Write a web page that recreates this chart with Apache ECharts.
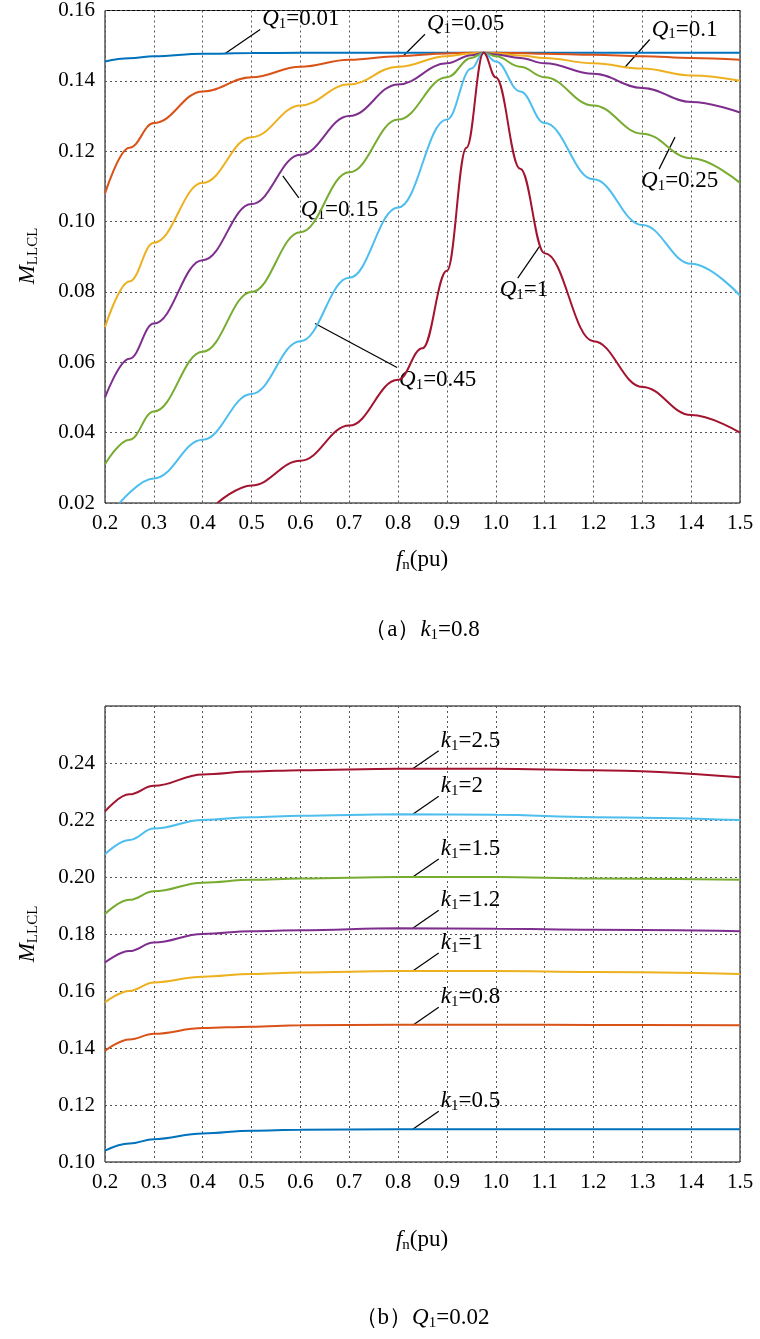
<!DOCTYPE html>
<html>
<head>
<meta charset="utf-8">
<script src="https://cdn.jsdelivr.net/npm/echarts@6/dist/echarts.min.js"></script>
<style>html,body{margin:0;background:#fff}#c{width:760px;height:1339px}</style>
</head>
<body>
<div id="c"></div>
<script>
// (a) k1 = 0.8, curves for several Q1
const colors = ['#0072BD', '#D95319', '#EDB120', '#7E2F8E', '#77AC30', '#4DBEEE', '#A2142F'];
const qX = [0.2, 0.25, 0.3, 0.4, 0.5, 0.6, 0.7, 0.8, 0.9, 0.95, 0.975, 1.0, 1.05, 1.1, 1.2, 1.3, 1.4, 1.5];
const q001 = [0.1455, 0.1464, 0.147, 0.1477, 0.1479, 0.148, 0.148, 0.148, 0.148, 0.148, 0.148, 0.148, 0.148, 0.148, 0.148, 0.148, 0.148, 0.148];
const q005 = [0.108, 0.121, 0.128, 0.137, 0.141, 0.144, 0.146, 0.147, 0.1478, 0.148, 0.148, 0.148, 0.1479, 0.1477, 0.1474, 0.147, 0.1465, 0.146];
const q01 = [0.070, 0.083, 0.094, 0.111, 0.124, 0.133, 0.139, 0.144, 0.147, 0.1478, 0.148, 0.1478, 0.1472, 0.1465, 0.145, 0.1435, 0.1415, 0.140];
const q015 = [0.050, 0.061, 0.071, 0.089, 0.105, 0.119, 0.130, 0.139, 0.145, 0.1473, 0.148, 0.1475, 0.1465, 0.145, 0.142, 0.138, 0.134, 0.131];
const q025 = [0.031, 0.038, 0.046, 0.063, 0.080, 0.097, 0.114, 0.129, 0.141, 0.1465, 0.148, 0.147, 0.144, 0.141, 0.133, 0.125, 0.118, 0.111];
const q045X = [0.23, 0.3, 0.4, 0.5, 0.6, 0.7, 0.8, 0.9, 0.95, 0.975, 1.0, 1.05, 1.1, 1.2, 1.3, 1.4, 1.5];
const q045 = [0.020, 0.027, 0.038, 0.051, 0.066, 0.084, 0.104, 0.129, 0.1435, 0.148, 0.1455, 0.137, 0.128, 0.112, 0.099, 0.088, 0.079];
const q1X = [0.43, 0.5, 0.6, 0.7, 0.8, 0.85, 0.9, 0.94, 0.975, 1.0, 1.05, 1.1, 1.2, 1.3, 1.4, 1.5];
const q1 = [0.020, 0.025, 0.032, 0.042, 0.055, 0.064, 0.086, 0.121, 0.148, 0.141, 0.115, 0.091, 0.066, 0.053, 0.045, 0.040];

// (b) Q1 = 0.02, curves for several k1
const kX = [0.2, 0.25, 0.3, 0.4, 0.5, 0.6, 0.8, 1.0, 1.2, 1.5];
const k05 = [0.104, 0.1065, 0.108, 0.110, 0.111, 0.1113, 0.1115, 0.1115, 0.1115, 0.1115];
const k08 = [0.139, 0.143, 0.145, 0.147, 0.1475, 0.148, 0.1482, 0.1482, 0.1481, 0.148];
const k1 = [0.156, 0.160, 0.163, 0.165, 0.166, 0.1665, 0.167, 0.167, 0.1667, 0.166];
const k12 = [0.170, 0.174, 0.177, 0.180, 0.181, 0.1813, 0.182, 0.1818, 0.1815, 0.181];
const k15 = [0.187, 0.192, 0.195, 0.198, 0.199, 0.1995, 0.200, 0.2, 0.1995, 0.199];
const k2 = [0.208, 0.213, 0.217, 0.220, 0.221, 0.2215, 0.222, 0.2218, 0.221, 0.220];
const k25 = [0.223, 0.229, 0.232, 0.236, 0.237, 0.2375, 0.238, 0.238, 0.2375, 0.235];

// label anchors: [grid, x on curve, y on curve, symbol, name value, dx, dy]
const labelsA = [
  [0, 0.446, 0.1478, 'Q', '0.01', 35, -24],
  [0, 0.81, 0.147, 'Q', '0.05', 22, -22],
  [0, 1.264, 0.1438, 'Q', '0.1', 25, -28],
  [0, 0.564, 0.113, 'Q', '0.15', 16, 22],
  [0, 1.367, 0.124, 'Q', '0.25', -16, 32],
  [0, 1.09, 0.093, 'Q', '1', -22, 32],
  [0, 0.63, 0.071, 'Q', '0.45', 82, 44]
];
const labelsB = [
  [1, 0.83, 0.238, 'k', '2.5', 26, -18],
  [1, 0.83, 0.222, 'k', '2', 26, -18],
  [1, 0.83, 0.200, 'k', '1.5', 26, -18],
  [1, 0.83, 0.182, 'k', '1.2', 26, -18],
  [1, 0.83, 0.167, 'k', '1', 26, -18],
  [1, 0.83, 0.148, 'k', '0.8', 26, -18],
  [1, 0.83, 0.1115, 'k', '0.5', 26, -18]
];

const font = 'Liberation Serif';
const zip = (xs, ys) => xs.map((x, i) => [x, ys[i]]);

const topSeries = [zip(qX, q001), zip(qX, q005), zip(qX, q01), zip(qX, q015), zip(qX, q025), zip(q045X, q045), zip(q1X, q1)];
const botSeries = [zip(kX, k05), zip(kX, k08), zip(kX, k1), zip(kX, k12), zip(kX, k15), zip(kX, k2), zip(kX, k25)];

function xAxis(gi) {
  return {
    type: 'value', gridIndex: gi, min: 0.2, max: 1.5, interval: 0.1,
    axisLine: {show: false}, axisTick: {show: false},
    axisLabel: {color: '#000', fontFamily: font, fontSize: 21, margin: 10, formatter: v => v.toFixed(1)},
    splitLine: {lineStyle: {color: '#555', type: [2, 3], width: 1}}
  };
}
function yAxis(gi, min, max) {
  return {
    type: 'value', gridIndex: gi, min: min, max: max, interval: 0.02,
    axisLine: {show: false}, axisTick: {show: false},
    axisLabel: {color: '#000', fontFamily: font, fontSize: 21, margin: 10,
      formatter: v => (gi === 1 && v > 0.25) ? '' : v.toFixed(2)},
    splitLine: {lineStyle: {color: '#555', type: [2, 3], width: 1}}
  };
}

const series = [];
topSeries.forEach((d, i) => series.push({type: 'line', xAxisIndex: 0, yAxisIndex: 0, data: d, smooth: 0.4,
  smoothMonotone: 'x', showSymbol: false, clip: true, lineStyle: {color: colors[i], width: 2}}));
botSeries.forEach((d, i) => series.push({type: 'line', xAxisIndex: 1, yAxisIndex: 1, data: d, smooth: 0.4,
  smoothMonotone: 'x', showSymbol: false, clip: true, lineStyle: {color: colors[i], width: 2}}));

const chart = echarts.init(document.getElementById('c'));
chart.setOption({
  animation: false,
  grid: [
    {left: 105, top: 10, width: 635, height: 493, show: true, borderColor: '#000', borderWidth: 1},
    {left: 105, top: 706, width: 635, height: 456, show: true, borderColor: '#000', borderWidth: 1}
  ],
  xAxis: [xAxis(0), xAxis(1)],
  yAxis: [yAxis(0, 0.02, 0.16), yAxis(1, 0.10, 0.26)],
  series: series
});

const rich = {
  i: {fontFamily: font, fontStyle: 'italic', fontSize: 23, color: '#000'},
  s: {fontFamily: font, fontSize: 15, color: '#000', padding: [10, 0, 0, 0]},
  n: {fontFamily: font, fontSize: 23, color: '#000'}
};
const graphics = [];
labelsA.concat(labelsB).forEach(l => {
  const p = chart.convertToPixel({gridIndex: l[0]}, [l[1], l[2]]);
  const tx = p[0] + l[5], ty = p[1] + l[6];
  graphics.push({type: 'line', shape: {x1: p[0], y1: p[1], x2: tx, y2: ty}, style: {stroke: '#000', lineWidth: 1.2}});
  const left = l[5] < 0 && l[6] > 0 ? tx - 20 : tx;
  graphics.push({type: 'text', x: left + 2, y: ty + (l[6] < 0 ? -10 : 12), style: {
    text: '{i|' + l[3] + '}{s|1}{n|=' + l[4] + '}', rich: rich, verticalAlign: 'middle'}});
});
// axis names and captions
[[560, 422], [1240, 422]].forEach(a => graphics.push({type: 'text', x: a[1], y: a[0], style: {
  text: '{i|f}{s|n}{n|(pu)}', rich: rich, align: 'center', verticalAlign: 'middle'}}));
[[256], [934]].forEach(a => graphics.push({type: 'text', x: 28, y: a[0], rotation: Math.PI / 2, style: {
  text: '{i|M}{s|LLCL}', rich: rich, align: 'center', verticalAlign: 'middle'}}));
graphics.push({type: 'text', x: 422, y: 630, style: {text: '{n|（a）}{i|k}{s|1}{n|=0.8}', rich: rich, align: 'center', verticalAlign: 'middle'}});
graphics.push({type: 'text', x: 422, y: 1318, style: {text: '{n|（b）}{i|Q}{s|1}{n|=0.02}', rich: rich, align: 'center', verticalAlign: 'middle'}});
chart.setOption({graphic: graphics});
</script>
</body>
</html>
